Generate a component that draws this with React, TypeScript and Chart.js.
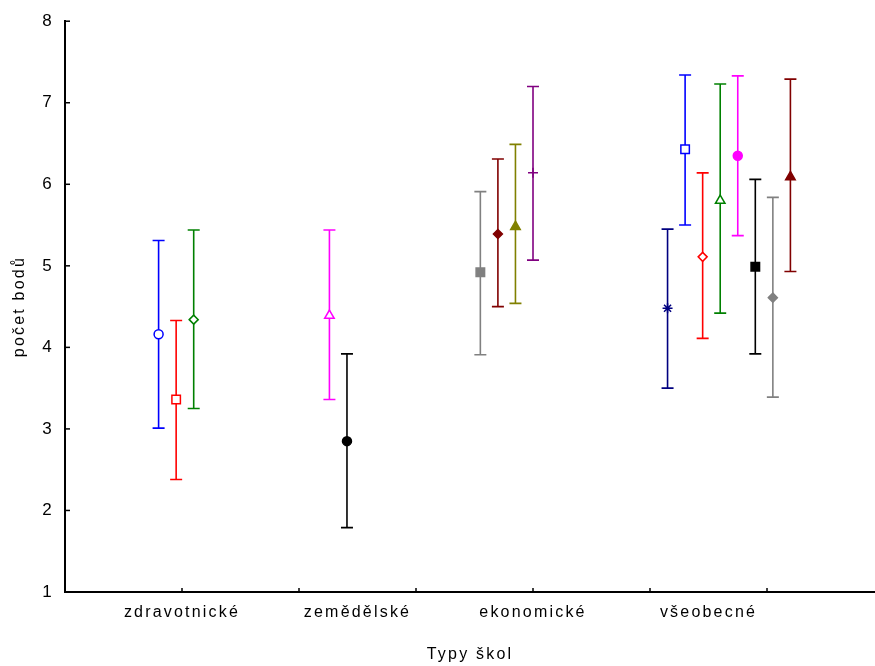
import React, { useEffect, useRef } from 'react';
import { Chart, registerables } from 'chart.js';

Chart.register(...registerables);

// Category labels along the x axis and where they sit on the linear x scale
const categories = ['zdravotnické', 'zemědělské', 'ekonomické', 'všeobecné'];
const categoryPositions = [1, 2.5, 4, 5.5];
// Tick marks of the x axis (no labels) and of the y axis
const xTickMarks = [1, 2, 3, 4, 5, 6];
const yTicks = [1, 2, 3, 4, 5, 6, 7, 8];

// One entry per plotted series (mean with interval)
const seriesX = [0.8, 0.95, 1.1, 2.26, 2.41, 3.55, 3.7, 3.85, 4.0, 5.15, 5.3, 5.45, 5.6, 5.75, 5.9, 6.05, 6.2];
const means = [4.16, 3.36, 4.34, 4.39, 2.85, 4.92, 5.39, 5.48, 6.14, 4.48, 6.43, 5.11, 5.8, 6.35, 4.99, 4.61, 6.09];
const lower = [3.01, 2.38, 3.25, 3.36, 1.79, 3.91, 4.5, 4.54, 5.07, 3.5, 5.5, 4.11, 4.42, 5.37, 3.92, 3.39, 4.93];
const upper = [5.31, 4.33, 5.44, 5.44, 3.92, 5.91, 6.31, 6.49, 7.2, 5.45, 7.34, 6.14, 7.23, 7.33, 6.06, 5.84, 7.29];

// Styles
const colors = ['#0000ff', '#ff0000', '#008000', '#ff00ff', '#000000', '#808080', '#800000', '#808000', '#800080',
  '#000080', '#0000ff', '#ff0000', '#008000', '#ff00ff', '#000000', '#808080', '#800000'];
const markers = ['circle', 'rect', 'rectRot', 'triangle', 'circle', 'rect', 'rectRot', 'triangle', 'cross',
  'star', 'rect', 'rectRot', 'triangle', 'circle', 'rect', 'rectRot', 'triangle'];
const filled = [false, false, false, false, true, true, true, true, true, true, false, false, false, true, true, true, true];
const markerRadius: Record<string, number> = { circle: 4.5, rect: 6, rectRot: 4.5, triangle: 5.5, cross: 5, star: 5 };

const FONT = "'Liberation Sans', Arial, sans-serif";
const LS = '2.2px';

const spacingPlugin = {
  id: 'letterSpacing',
  beforeUpdate(chart: any) { chart.ctx.letterSpacing = LS; },
  beforeLayout(chart: any) { chart.ctx.letterSpacing = LS; },
  beforeDraw(chart: any) { chart.ctx.letterSpacing = LS; },
};

const inwardTicks = {
  id: 'inwardTicks',
  afterDraw(chart: any) {
    const { ctx, chartArea, scales } = chart;
    ctx.save();
    ctx.strokeStyle = '#000';
    ctx.lineWidth = 1.5;
    yTicks.forEach((v) => {
      const y = scales.y.getPixelForValue(v);
      ctx.beginPath();
      ctx.moveTo(chartArea.left, y);
      ctx.lineTo(chartArea.left + 5, y);
      ctx.stroke();
    });
    xTickMarks.forEach((v) => {
      const x = scales.x.getPixelForValue(v);
      ctx.beginPath();
      ctx.moveTo(x, chartArea.bottom);
      ctx.lineTo(x, chartArea.bottom - 4);
      ctx.stroke();
    });
    ctx.restore();
  },
};

export default function App() {
  const ref = useRef<HTMLCanvasElement | null>(null);

  useEffect(() => {
    if (!ref.current) return;
    const markerSets = seriesX.map((x, i) => ({
      type: 'scatter' as const,
      data: [{ x, y: means[i] }],
      pointStyle: markers[i] as any,
      pointRadius: markerRadius[markers[i]],
      pointBorderColor: colors[i],
      pointBackgroundColor: filled[i] ? colors[i] : '#ffffff',
      pointBorderWidth: 1.5,
      order: 0,
    }));
    const barSets = seriesX.map((x, i) => ({
      type: 'line' as const,
      data: [{ x, y: lower[i] }, { x, y: upper[i] }],
      borderColor: colors[i],
      borderWidth: 1.6,
      pointStyle: 'line' as const,
      pointRadius: 6,
      pointBorderColor: colors[i],
      pointBorderWidth: 1.6,
      fill: false,
      order: 1,
    }));

    const chart = new Chart(ref.current, {
      type: 'scatter',
      data: { datasets: [...markerSets, ...barSets] as any },
      options: {
        animation: false,
        responsive: false,
        layout: { autoPadding: false, padding: { top: 19, right: 0, bottom: 0, left: 0 } },
        plugins: { legend: { display: false }, tooltip: { enabled: false } },
        scales: {
          x: {
            type: 'linear',
            position: 'bottom',
            min: 0,
            max: 6.923,
            afterBuildTicks: (axis: any) => {
              axis.ticks = categoryPositions.map((v) => ({ value: v }));
            },
            afterFit: (axis: any) => { axis.height = 74; },
            ticks: {
              autoSkip: false,
              maxRotation: 0,
              padding: 11,
              color: '#000',
              font: { family: FONT, size: 16 },
              callback: (_v: any, idx: number) => categories[idx],
            },
            grid: { display: false, drawTicks: false },
            border: { display: true, color: '#000', width: 2 },
            title: {
              display: true,
              text: 'Typy škol',
              color: '#000',
              font: { family: FONT, size: 16 },
              padding: { top: 0, bottom: 2 },
            },
          },
          y: {
            type: 'linear',
            min: 1,
            max: 8,
            afterFit: (axis: any) => { axis.width = 65; },
            ticks: {
              stepSize: 1,
              padding: 11,
              color: '#000',
              font: { family: FONT, size: 17 },
            },
            grid: { display: false, drawTicks: false },
            border: { display: true, color: '#000', width: 2 },
            title: {
              display: true,
              text: 'počet bodů',
              color: '#000',
              font: { family: FONT, size: 16 },
              padding: { top: 10, bottom: 0 },
            },
          },
        },
      } as any,
      plugins: [spacingPlugin, inwardTicks],
    });
    return () => chart.destroy();
  }, []);

  return (
    <div style={{ position: 'fixed', left: 0, top: 0, width: 875, height: 666, background: '#fff' }}>
      <canvas ref={ref} width={875} height={666} />
    </div>
  );
}
